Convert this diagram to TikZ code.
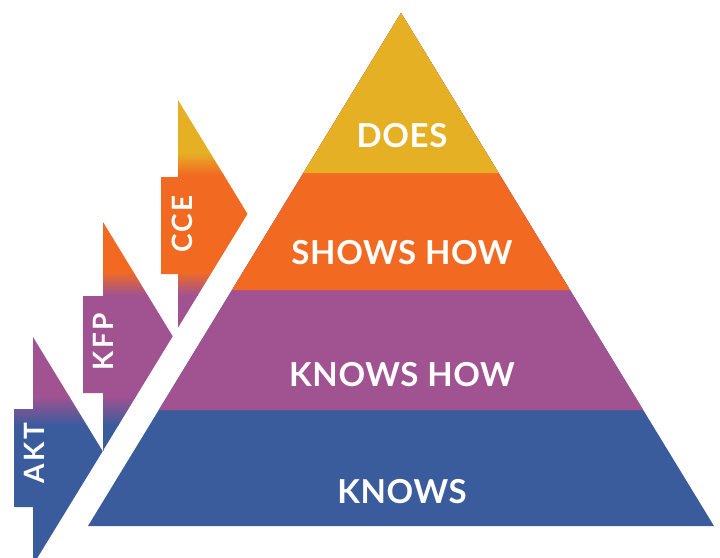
\documentclass[tikz,border=0pt]{standalone}
\usepackage{fontspec}
\setmainfont{Lato}
\newfontfamily\bandfont[LetterSpace=2]{Lato}
\newfontfamily\arrowfont[LetterSpace=9]{Lato}
\definecolor{cyel}{HTML}{E5B024}
\definecolor{cbri}{HTML}{F8BA16}
\definecolor{corg}{HTML}{F26A22}
\definecolor{cpur}{HTML}{A05291}
\definecolor{cblu}{HTML}{3B5C9C}
\tikzset{
  bandlabel/.style={text=white, font=\bandfont\fontsize{33}{33}\selectfont\bfseries, inner sep=0pt},
  arrowlabel/.style={text=white, font=\arrowfont\fontsize{28}{28}\selectfont\bfseries, inner sep=0pt, rotate=90},
}
\begin{document}
\begin{tikzpicture}[x=1pt,y=-1pt]
\useasboundingbox (0,0) rectangle (720,557);
% pyramid
\fill[cblu] (401,13) -- (714,526) -- (88,526) -- cycle;
\fill[cpur] (401,13) -- (643.2,410) -- (158.8,410) -- cycle;
\fill[corg] (401,13) -- (570,290) -- (232,290) -- cycle;
\fill[cyel] (401,13) -- (498.6,173) -- (303.4,173) -- cycle;
% arrows
\begin{scope}
\clip (178,100) -- (247.5,213.9) -- (178,327.7) -- (178,274) -- (161,274) -- (161,177) -- (178,177) -- cycle
      (103,222) -- (172.7,336.3) -- (103,450.6) -- (103,393) -- (83,393) -- (83,296) -- (103,296) -- cycle
      (33,337) -- (102.7,451.2) -- (33,565) -- (33,507) -- (14,507) -- (14,409) -- (33,409) -- cycle;
\fill[cyel] (0,0) rectangle (300,153);
\shade[top color=cyel, middle color=cbri, bottom color=corg] (0,152.5) rectangle (300,174.5);
\fill[corg] (0,174) rectangle (300,272);
\shade[top color=corg, bottom color=cpur] (0,271.5) rectangle (300,295.5);
\fill[cpur] (0,295) rectangle (300,397);
\shade[top color=cpur, bottom color=cblu] (0,396.5) rectangle (300,425.5);
\fill[cblu] (0,425) rectangle (300,570);
\end{scope}
% labels
\node[bandlabel] (does) at (402,136) {DOES};
\node[bandlabel] (shows) at (402,253) {SHOWS HOW};
\node[bandlabel] (knowshow) at (402,375) {KNOWS HOW};
\node[bandlabel] (knows) at (402,492) {KNOWS};
\node[arrowlabel] (cce) at (182.5,224) {CCE};
\node[arrowlabel] (kfp) at (103,342) {KFP};
\node[arrowlabel] (akt) at (34,453) {AKT};
\end{tikzpicture}
\end{document}
